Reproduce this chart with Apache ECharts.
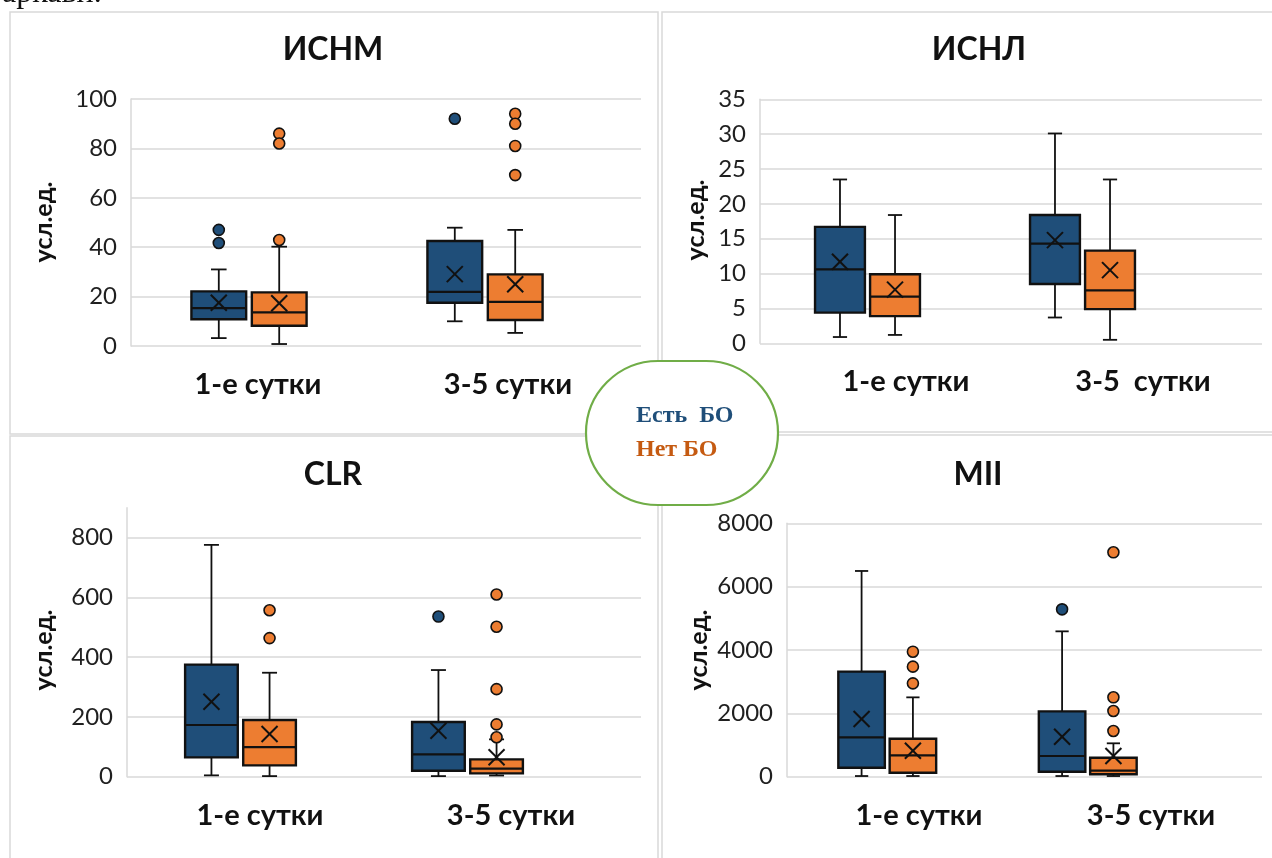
<!DOCTYPE html>
<html><head><meta charset="utf-8">
<script src="https://cdn.jsdelivr.net/npm/echarts@6/dist/echarts.min.js"></script>
<style>html,body{margin:0;padding:0;background:#fff}#c{width:1272px;height:858px}</style>
</head><body><div id="c"></div>
<script>
// ---------- data ----------
const categories = ['1-е сутки', '3-5 сутки'];
const categoriesIsnl = ['1-е сутки', '3-5  сутки'];
const groupNames = ['Есть  БО', 'Нет БО'];
// each row: [min, Q1, median, Q3, max, mean] for category 0 and 1
const isnmYes = [[3.2, 10.8, 15.3, 22.1, 31, 17.5], [10, 17.5, 21.9, 42.5, 47.9, 29.1]];
const isnmNo  = [[0.8, 8.2, 13.6, 21.7, 40.2, 17.3], [5.3, 10.5, 17.9, 29, 47, 25]];
const isnmYesOut = [[47, 41.7], [92]];
const isnmNoOut  = [[86, 82, 42.9], [94, 90, 81, 69.2]];

const isnlYes = [[0.9, 4.4, 10.6, 16.7, 23.5, 11.7], [3.7, 8.5, 14.3, 18.4, 30.1, 14.8]];
const isnlNo  = [[1.2, 3.9, 6.7, 9.9, 18.4, 7.7], [0.5, 4.9, 7.6, 13.3, 23.5, 10.5]];
const isnlYesOut = [[], []];
const isnlNoOut  = [[], []];

const clrYes = [[4.5, 64.7, 173, 375, 776, 251], [2, 20, 75, 183, 357, 154]];
const clrNo  = [[2, 38, 99, 190, 348, 143], [4, 11, 27, 58, 125, 65]];
const clrYesOut = [[], [536]];
const clrNoOut  = [[557, 464], [610, 502, 293, 175, 132]];

const miiYes = [[21, 284, 1242, 3316, 6495, 1821], [21, 158, 653, 2063, 4589, 1263]];
const miiNo  = [[21, 126, 674, 1200, 2505, 821], [21, 76, 189, 600, 1054, 653]];
const miiYesOut = [[], [5284]];
const miiNoOut  = [[3947, 3474, 2947], [7084, 2506, 2074, 1442]];

// ---------- styles / layout ----------
const BLUE = '#1F4E79', ORANGE = '#ED7D31', GRID = '#D9D9D9', INK = '#111';
const FONT = 'Lato, "Open Sans", sans-serif';
const panels = [
  {title:'ИСНМ', cats:categories, yes:isnmYes, no:isnmNo, yesOut:isnmYesOut, noOut:isnmNoOut, yMax:100, yInt:20, axisMax:100,
   left:131, top:99, zeroY:346, band:236, end:641, labX:[258, 508], tx:333, ty:50, nx:44, ny:222},
  {title:'ИСНЛ', cats:categoriesIsnl, yes:isnlYes, no:isnlNo, yesOut:isnlYesOut, noOut:isnlNoOut, yMax:35, yInt:5, axisMax:35,
   left:760, top:99.3, zeroY:343.3, band:215, end:1262, labX:[906, 1143], tx:979, ty:50, nx:696, ny:220},
  {title:'CLR', cats:categories, yes:clrYes, no:clrNo, yesOut:clrYesOut, noOut:clrNoOut, yMax:800, yInt:200, axisMax:900,
   left:127, top:537.7, zeroY:776.7, band:227, end:641, labX:[260, 511], tx:333, ty:475, nx:44, ny:650},
  {title:'MII', cats:categories, yes:miiYes, no:miiNo, yesOut:miiYesOut, noOut:miiNoOut, yMax:8000, yInt:2000, axisMax:8000,
   left:787, top:523.3, zeroY:776.7, band:200.5, end:1262, labX:[919, 1151], tx:978, ty:475, nx:699, ny:650}
];
const OFF = 0.128;   // half distance between the two boxes, in category units

function renderBox(color, off) {
  return function (params, api) {
    const x = api.value(0) + 0.5 + off;
    const unit = api.size([1, 0])[0];
    const bw = unit * 0.232, cap = unit * 0.033;
    const pMin = api.coord([x, api.value(1)]), pQ1 = api.coord([x, api.value(2)]);
    const pMed = api.coord([x, api.value(3)]), pQ3 = api.coord([x, api.value(4)]);
    const pMax = api.coord([x, api.value(5)]), pMean = api.coord([x, api.value(6)]);
    const cx = pMed[0];
    const ln = (x1, y1, x2, y2, w) => ({type:'line', shape:{x1, y1, x2, y2}, style:{stroke:INK, lineWidth:w || 1.8}});
    const m = 8;
    return {type:'group', children:[
      ln(cx, pMax[1], cx, pQ3[1]), ln(cx - cap, pMax[1], cx + cap, pMax[1]),
      ln(cx, pQ1[1], cx, pMin[1]), ln(cx - cap, pMin[1], cx + cap, pMin[1]),
      {type:'rect', shape:{x:cx - bw / 2, y:pQ3[1], width:bw, height:pQ1[1] - pQ3[1]},
       style:{fill:color, stroke:INK, lineWidth:2.4}},
      ln(cx - bw / 2, pMed[1], cx + bw / 2, pMed[1], 2.2),
      ln(cx - m, pMean[1] - m, cx + m, pMean[1] + m, 2),
      ln(cx - m, pMean[1] + m, cx + m, pMean[1] - m, 2)
    ]};
  };
}

const grids = [], xAxes = [], yAxes = [], series = [], graphics = [];
panels.forEach((p, i) => {
  const xMax = (p.end - p.left) / p.band;
  const labVals = p.labX.map(px => (px - p.left) / p.band);
  grids.push({left:p.left, top:p.top - (p.axisMax - p.yMax) * (p.zeroY - p.top) / p.yMax,
              width:p.end - p.left, height:(p.zeroY - p.top) * p.axisMax / p.yMax,
              outerBoundsMode:'none', containLabel:false});
  xAxes.push({gridIndex:i, type:'value', min:0, max:xMax,
    axisLine:{show:false}, axisTick:{show:false}, splitLine:{show:false},
    axisLabel:{customValues:labVals, formatter:(v) => p.cats[v < 1 ? 0 : 1],
      fontFamily:FONT, fontWeight:'bold', fontSize:29, color:'#111', margin:24}});
  yAxes.push({gridIndex:i, type:'value', min:0, max:p.axisMax, interval:p.yInt,
    axisLine:{show:true, lineStyle:{color:GRID, width:1.5}}, axisTick:{show:false},
    splitLine:{show:true, showMaxLine:p.axisMax === p.yMax, lineStyle:{color:GRID, width:1.5}},
    axisLabel:{fontFamily:FONT, fontSize:24, color:'#1f1f1f', margin:14, showMaxLabel:p.axisMax === p.yMax,
      formatter:(v) => String(v)}});
  [[p.yes, BLUE, -OFF, p.yesOut, groupNames[0]], [p.no, ORANGE, OFF, p.noOut, groupNames[1]]].forEach(([d, col, off, outs, nm]) => {
    series.push({type:'custom', name:nm, xAxisIndex:i, yAxisIndex:i, renderItem:renderBox(col, off),
      encode:{x:0, y:[1, 2, 3, 4, 5, 6]},
      data:d.map((r, k) => [k].concat(r)), z:3});
    const pts = [];
    outs.forEach((arr, k) => arr.forEach(v => pts.push([k + 0.5 + off, v])));
    series.push({type:'scatter', name:nm, xAxisIndex:i, yAxisIndex:i, data:pts, symbolSize:11,
      itemStyle:{color:col, borderColor:INK, borderWidth:1.6, opacity:1}, z:4});
  });
  graphics.push({type:'text', x:p.tx, y:p.ty, style:{text:p.title, font:'bold 32px ' + FONT, fill:'#111', align:'center', verticalAlign:'middle'}});
  graphics.push({type:'text', x:p.nx, y:p.ny, rotation:Math.PI / 2,
    style:{text:'усл.ед.', font:'bold 25px ' + FONT, fill:'#111', align:'center', verticalAlign:'middle'}});
});

// panel frames
[[10, 12, 648, 422], [662, 12, 620, 420], [10, 436, 648, 430], [662, 435, 620, 430]].forEach(r => {
  graphics.push({type:'rect', z:-10, shape:{x:r[0], y:r[1], width:r[2], height:r[3]},
    style:{fill:'none', stroke:GRID, lineWidth:1.5}});
});
// cut-off text at top
graphics.push({type:'text', x:2, y:-6, style:{text:'аркави.', font:'32px "Liberation Serif", serif', fill:'#111', verticalAlign:'middle'}});
// legend oval
graphics.push({type:'group', z:100, children:[
  {type:'rect', shape:{x:586, y:361, width:192, height:144, r:72}, style:{fill:'#fff', stroke:'#70AD47', lineWidth:2.2}},
  {type:'text', x:636, y:416, style:{text:groupNames[0], font:'bold 24px "Liberation Serif", serif', fill:BLUE, verticalAlign:'middle'}},
  {type:'text', x:636, y:450, style:{text:groupNames[1], font:'bold 24px "Liberation Serif", serif', fill:'#C55A11', verticalAlign:'middle'}}
]});

const chart = echarts.init(document.getElementById('c'), null, {renderer:'canvas'});
chart.setOption({
  animation:false, backgroundColor:'#fff',
  grid:grids, xAxis:xAxes, yAxis:yAxes, series:series, graphic:graphics
});
</script></body></html>
